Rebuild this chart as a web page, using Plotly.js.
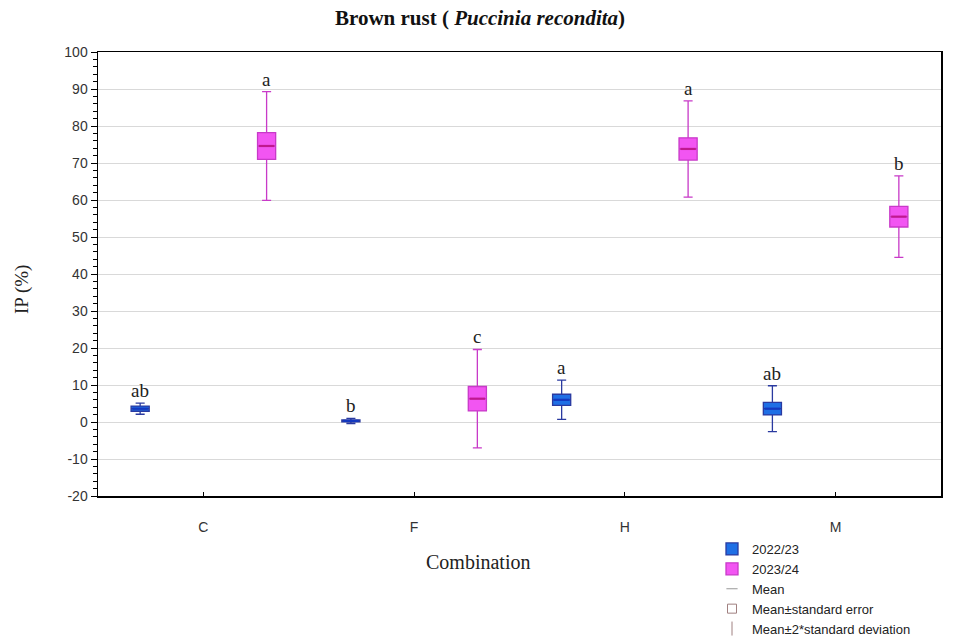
<!DOCTYPE html>
<html>
<head>
<meta charset="utf-8">
<script src="https://cdn.plot.ly/plotly-3.0.1.min.js"></script>
<style>html,body{margin:0;padding:0;background:#fff;}#chart{width:956px;height:638px;}</style>
</head>
<body>
<div id="chart"></div>
<script>
// ---- data ----
const categories = ['C', 'F', 'H', 'M'];
const seasons = ['2022/23', '2023/24'];
// 2022/23
const mean2223 = [3.6, 0.3, 6.0, 3.6];
const se2223   = [0.7, 0.25, 1.5, 1.7];
const sd2x2223 = [1.5, 0.7, 5.3, 6.2];   // 2 * standard deviation
const letters2223 = ['ab', 'b', 'a', 'ab'];
// 2023/24
const mean2324 = [74.6, 6.3, 73.8, 55.5];
const se2324   = [3.6, 3.3, 3.0, 2.8];
const sd2x2324 = [14.7, 13.3, 13.0, 11.0];
const letters2324 = ['a', 'c', 'a', 'b'];

const yTicks = [-20, -10, 0, 10, 20, 30, 40, 50, 60, 70, 80, 90, 100];
const yTickText = ['-20', '-10', '0', '10', '20', '30', '40', '50', '60', '70', '80', '90', '100'];

// ---- build ----
const catIdx = categories.map((c, i) => i);
const offset = 0.3;
const pos2223 = catIdx.map(i => i - offset);
const pos2324 = catIdx.map(i => i + offset);

function boxTrace(name, pos, mean, se, sd2, fill, line) {
  return {
    type: 'box', name: name, x: pos,
    q1: mean.map((m, i) => m - se[i]),
    q3: mean.map((m, i) => m + se[i]),
    median: mean,
    lowerfence: mean.map((m, i) => m - sd2[i]),
    upperfence: mean.map((m, i) => m + sd2[i]),
    width: 0.086, whiskerwidth: 0.5,
    fillcolor: fill, line: {color: line, width: 1.3},
    hoverinfo: 'skip', showlegend: true
  };
}
function meanTrace(pos, mean, color, yaxis) {
  return {
    type: 'scatter', mode: 'markers', x: pos, y: mean, showlegend: false,
    yaxis: yaxis || 'y',
    marker: {symbol: 'line-ew-open', size: 11, color: color, line: {color: color, width: 2.2}},
    hoverinfo: 'skip'
  };
}
function dummy(name, symbol, color, size) {
  return {
    type: 'scatter', mode: 'markers', x: [null], y: [null], name: name,
    marker: {symbol: symbol, size: size, color: color, line: {color: color, width: 1}},
    showlegend: true
  };
}

const data = [
  boxTrace(seasons[0], pos2223, mean2223, se2223, sd2x2223, '#1f6fe5', '#2a3aa0'),
  boxTrace(seasons[1], pos2324, mean2324, se2324, sd2x2324, '#f255f2', '#c83ac8'),
  meanTrace(pos2223, mean2223, '#1438c0'),
  // 2023/24 mean dashes are drawn on the overlaying minor-tick axis (same range)
  meanTrace(pos2324, mean2324, '#c0188f', 'y2'),
  dummy('Mean', 'line-ew-open', '#999999', 8),
  dummy('Mean±standard error', 'square-open', '#a08080', 9),
  dummy('Mean±2*standard deviation', 'line-ns-open', '#a08080', 10)
];

const serif = 'Liberation Serif, Times New Roman, serif';
const sans = 'Liberation Sans, Arial, sans-serif';
const annotations = [];
pos2223.forEach((p, i) => annotations.push({
  x: p, y: mean2223[i] + sd2x2223[i], text: letters2223[i], showarrow: false,
  yanchor: 'bottom', yshift: 0, font: {family: serif, size: 19, color: '#222'}
}));
pos2324.forEach((p, i) => annotations.push({
  x: p, y: mean2324[i] + sd2x2324[i], text: letters2324[i], showarrow: false,
  yanchor: 'bottom', yshift: 0, font: {family: serif, size: 19, color: '#222'}
}));
annotations.push({
  xref: 'paper', yref: 'paper', x: (478 - 98) / 843, y: (496 - 562) / 444,
  text: 'Combination', showarrow: false, xanchor: 'center', yanchor: 'middle',
  font: {family: serif, size: 20, color: '#222'}
});
annotations.push({
  xref: 'paper', yref: 'paper', x: (22 - 98) / 843, y: (496 - 290) / 444,
  text: 'IP (%)', showarrow: false, textangle: -90, xanchor: 'center', yanchor: 'middle',
  font: {family: serif, size: 19, color: '#222'}
});

const layout = {
  width: 956, height: 638,
  margin: {l: 98, r: 15, t: 52, b: 142, autoexpand: false},
  paper_bgcolor: '#ffffff', plot_bgcolor: '#ffffff',
  title: {
    text: '<b>Brown rust ( <i>Puccinia recondita</i>)</b>',
    x: 480 / 956, xref: 'container', xanchor: 'center', y: 1 - 18 / 638, yanchor: 'middle',
    font: {family: serif, size: 21, color: '#111'}
  },
  boxmode: 'overlay',
  showlegend: true,
  legend: {
    x: (712 - 98) / 843, y: (496 - 534) / 444, xanchor: 'left', yanchor: 'top',
    font: {family: sans, size: 13, color: '#222'},
    tracegroupgap: 0, itemwidth: 30, bgcolor: 'rgba(0,0,0,0)'
  },
  xaxis: {
    range: [-0.5, 3.5], tickmode: 'array', tickvals: catIdx, ticktext: categories,
    ticks: 'inside', ticklen: 4, tickcolor: '#000', showgrid: false, zeroline: false,
    showline: true, linecolor: '#000', linewidth: 1.5, mirror: true,
    ticklabelstandoff: 18,
    tickfont: {family: sans, size: 14, color: '#333'}
  },
  yaxis: {
    range: [-20, 100], tickmode: 'array', tickvals: yTicks, ticktext: yTickText,
    ticks: 'outside', ticklen: 6, tickcolor: '#000',
    showgrid: true, gridcolor: '#d9d9d9', gridwidth: 1, zeroline: false,
    showline: true, linecolor: '#000', linewidth: 1.5, mirror: true,
    tickfont: {family: sans, size: 14, color: '#333'}
  },
  yaxis2: {
    overlaying: 'y', side: 'left', anchor: 'x', range: [-20, 100], autorange: false,
    tickmode: 'linear', tick0: 0, dtick: 2, ticks: 'outside', ticklen: 4, tickwidth: 1, tickcolor: '#000',
    showticklabels: false, showgrid: false, zeroline: false, showline: false
  },
  annotations: annotations
};

Plotly.newPlot('chart', data, layout, {displayModeBar: false, staticPlot: true});
</script>
</body>
</html>
